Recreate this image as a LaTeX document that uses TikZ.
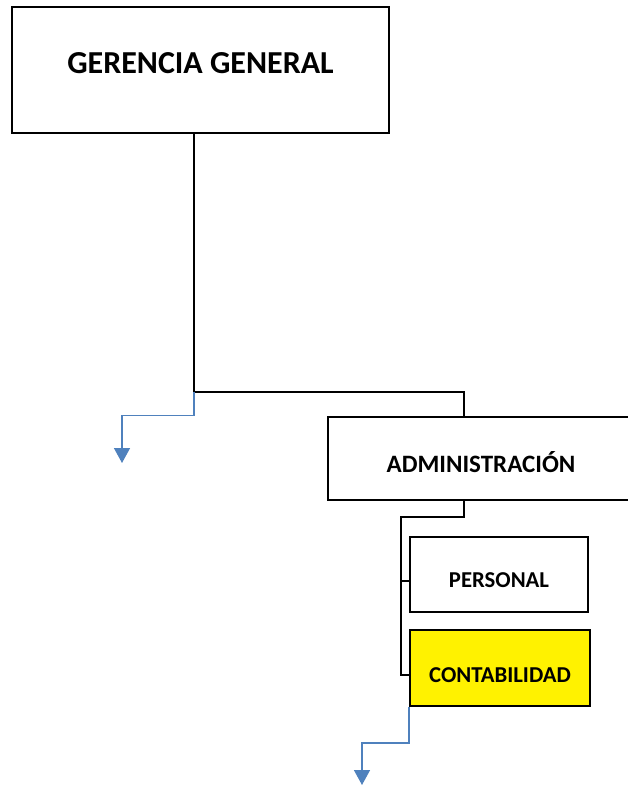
\documentclass[tikz,border=0pt]{standalone}
\usepackage{fontspec}
\setmainfont{Carlito}
\usepackage{tikz}
\usetikzlibrary{arrows.meta}
\definecolor{linkblue}{HTML}{4F81BD}

\begin{document}
\begin{tikzpicture}[
    x=1pt, y=-1pt,
    box/.style={draw, line width=2pt, inner sep=0pt},
    big/.style={font=\bfseries\fontsize{32}{38}\selectfont},
    mid/.style={font=\bfseries\fontsize{25}{30}\selectfont},
    small/.style={font=\bfseries\fontsize{22.7}{27}\selectfont},
    link/.style={draw, line width=2pt},
    down/.style={draw=linkblue, line width=1.5pt, -{Triangle[width=16pt,length=15pt]}}
  ]
    \useasboundingbox (0,0) rectangle (627,785);
    % boxes
    \node[box, minimum width=377pt, minimum height=126pt] (ger) at (200.5,70) {};
    \node[box, minimum width=312pt, minimum height=83pt] (adm) at (484,458) {};
    \node[box, minimum width=178pt, minimum height=75pt] (per) at (499,574.5) {};
    \node[box, fill=yellow, minimum width=180pt, minimum height=76pt] (con) at (500,668) {};
    % texts
    \node[big] (gertxt) at (200.5,63) {GERENCIA GENERAL};
    \node[mid] (admtxt) at (481,462) {ADMINISTRACIÓN};
    \node[small] (pertxt) at (499,580.5) {PERSONAL};
    \node[small] (contxt) at (500,675) {CONTABILIDAD};

    \coordinate (j1) at (194,392);
    \coordinate (a1) at (464,392);
    \coordinate (a2) at (464,517);
    \coordinate (s1) at (401,517);
    \coordinate (d1) at (122,463);
    \coordinate (d2) at (362,785);

    \draw[link] (j1 |- ger.south) -- (j1) -- (a1) -- (a1 |- adm.north);
    \draw[link] (a2 |- adm.south) -- (a2) -- (s1) -- (s1 |- contxt) -- (con.west |- contxt);
    \draw[link] (s1 |- pertxt) -- (per.west |- pertxt);

    \draw[down] (j1) -- (j1 |- adm.north) -| (d1);
    \draw[down] (con.south west) -- ++(0,36) -| (d2);
\end{tikzpicture}
\end{document}
